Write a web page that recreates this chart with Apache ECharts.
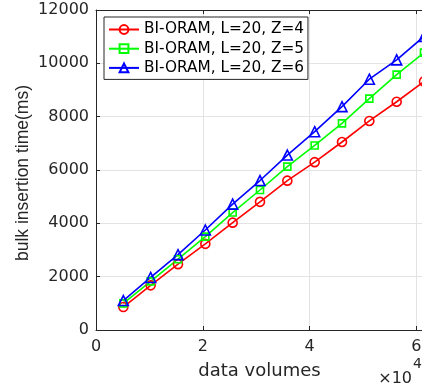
<!DOCTYPE html>
<html><head><meta charset="utf-8">
<script src="https://cdn.jsdelivr.net/npm/echarts@6/dist/echarts.min.js"></script>
<style>html,body{margin:0;padding:0;background:#fff}#c{width:422px;height:383px}</style>
</head><body><div id="c"></div>
<script>
const xValues = [5120, 10240, 15360, 20480, 25600, 30720, 35840, 40960, 46080, 51200, 56320, 61440];
const seriesNames = ['BI-ORAM, L=20, Z=4', 'BI-ORAM, L=20, Z=5', 'BI-ORAM, L=20, Z=6'];
const z4 = [860, 1675, 2470, 3230, 4025, 4805, 5600, 6295, 7050, 7840, 8560, 9320];
const z5 = [1000, 1825, 2655, 3500, 4405, 5250, 6125, 6920, 7750, 8675, 9575, 10400];
const z6 = [1105, 1970, 2825, 3750, 4720, 5605, 6560, 7437, 8375, 9405, 10130, 11010];
const xAxisTitle = 'data volumes';
const yAxisTitle = 'bulk insertion time(ms)';
const xScaleExp = '4';

const FONT = 'DejaVu Sans';
const AX = '#262626';
const chart = echarts.init(document.getElementById('c'), null, {renderer: 'canvas'});

function mk(name, vals, color, symbol, size) {
  return {
    name: name, type: 'line', xAxisIndex: 0, yAxisIndex: 0,
    data: xValues.map((x, i) => [x, vals[i]]),
    symbol: symbol, symbolSize: size, showAllSymbol: true,
    lineStyle: {color: color, width: 1.6},
    itemStyle: {color: 'rgba(255,255,255,0)', borderColor: color, borderWidth: 1.6},
    emphasis: {disabled: true},
    clip: false, animation: false
  };
}

const axisCommon = {
  type: 'value',
  axisLine: {show: true, lineStyle: {color: AX, width: 1}},
  axisTick: {show: true, inside: true, length: 4, lineStyle: {color: AX}},
};

chart.setOption({
  animation: false,
  backgroundColor: '#fff',
  grid: {left: 96, top: 10, right: -2, bottom: 53, containLabel: false, outerBoundsMode: 'none'},
  legend: {
    data: seriesNames,
    orient: 'vertical', left: 104, top: 17,
    padding: [5, 4, 4, 4],
    itemWidth: 30, itemHeight: 11, itemGap: 4.2,
    backgroundColor: '#fff', borderColor: AX, borderWidth: 1,
    textStyle: {fontFamily: FONT, fontSize: 15.3, color: '#000', lineHeight: 15},
    selectedMode: false
  },
  xAxis: [
    Object.assign({}, axisCommon, {
      position: 'bottom', min: 0, max: 61440, interval: 20000,
      axisLabel: {fontFamily: FONT, fontSize: 16, color: AX, margin: 9, showMaxLabel: false,
        formatter: v => String(v / 10000)},
      splitLine: {show: true, lineStyle: {color: '#e3e3e3', width: 1}}
    }),
    Object.assign({}, axisCommon, {
      position: 'top', min: 0, max: 61440, interval: 20000,
      axisLabel: {show: false}, splitLine: {show: false}
    })
  ],
  yAxis: [
    Object.assign({}, axisCommon, {
      position: 'left', min: 0, max: 12000, interval: 2000,
      axisLabel: {fontFamily: FONT, fontSize: 16, color: AX, margin: 7, formatter: v => String(v)},
      splitLine: {show: true, lineStyle: {color: '#e3e3e3', width: 1}}
    })
  ],
  graphic: [
    {type: 'text', x: 23, y: 173, rotation: Math.PI / 2,
      style: {text: yAxisTitle, fontFamily: 'Liberation Sans', fontSize: 17.5, fill: AX, align: 'center', verticalAlign: 'middle'}},
    {type: 'text', x: 259.5, y: 371,
      style: {text: xAxisTitle, fontFamily: FONT, fontSize: 18, fill: AX, align: 'center', verticalAlign: 'middle'}},
    {type: 'text', x: 412, y: 378.5,
      style: {text: '\u00d710', fontFamily: FONT, fontSize: 16, fill: AX, align: 'right', verticalAlign: 'middle'}},
    {type: 'text', x: 413, y: 364,
      style: {text: xScaleExp, fontFamily: FONT, fontSize: 14, fill: AX, align: 'left', verticalAlign: 'middle'}}
  ],
  series: [
    mk(seriesNames[0], z4, '#ff0000', 'circle', 9),
    mk(seriesNames[1], z5, '#00ff00', 'rect', 7),
    mk(seriesNames[2], z6, '#0000ff', 'triangle', 10)
  ]
});
</script></body></html>
